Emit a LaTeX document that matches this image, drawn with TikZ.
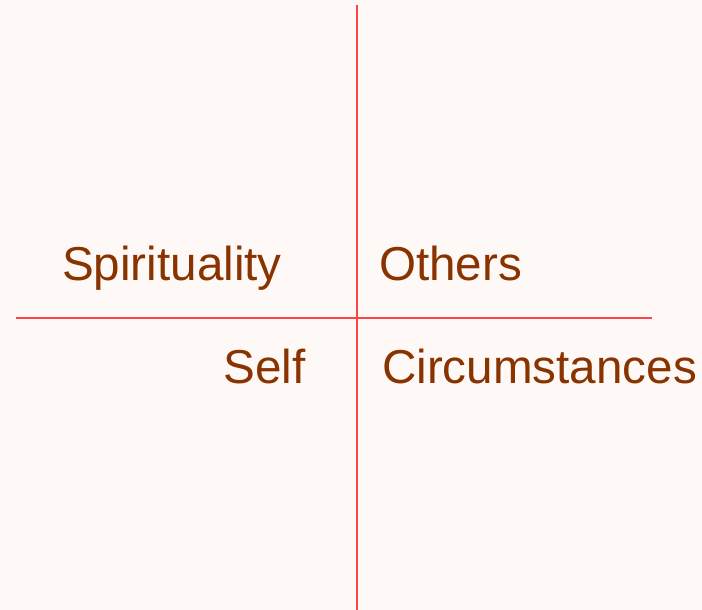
\documentclass[tikz,border=0pt]{standalone}
\usepackage{fontspec}
\setmainfont{Liberation Sans}
\usepackage{xcolor}
\usepackage{tikz}
\definecolor{paperWhite}{HTML}{FEF9F6}
\definecolor{axisRed}{HTML}{FF4646}
\definecolor{labelBrown}{HTML}{883300}
\tikzset{
  axisline/.style={draw=axisRed, line width=2.4pt},
  quadlabel/.style={font=\fontsize{47.6}{57}\selectfont, text=labelBrown, inner sep=0pt},
}

\begin{document}
\begin{tikzpicture}[x=1pt,y=-1pt]
      \fill[paperWhite] (0,0) rectangle (702,610);
      \useasboundingbox (0,0) rectangle (702,610);

      \coordinate (top) at (357,5);
      \coordinate (bottom) at (357,610);
      \coordinate (left) at (16,318);
      \coordinate (right) at (652,318);
      \draw[axisline] (top) -- (bottom);
      \draw[axisline] (left) -- (right);

      \node[quadlabel, anchor=base west] (spirit) at (62,280) {Spirituality};
      \node[quadlabel, anchor=base west] (others) at (379,280) {Others};
      \node[quadlabel, anchor=base east] (self) at (306,383) {Self};
      \node[quadlabel, anchor=base west] (circ) at (382,383) {Circumstances};
    \end{tikzpicture}
\end{document}
